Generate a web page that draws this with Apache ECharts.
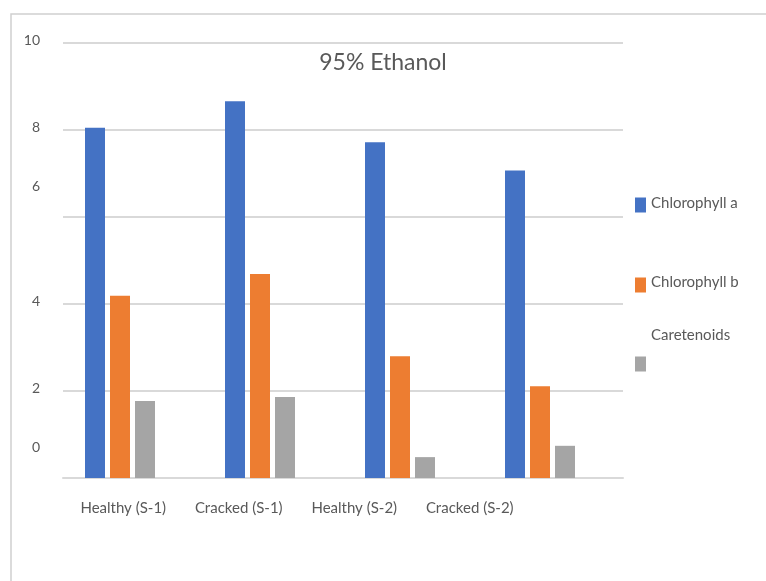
<!DOCTYPE html>
<html>
<head>
<meta charset="utf-8">
<script src="https://cdn.jsdelivr.net/npm/echarts@6/dist/echarts.min.js"></script>
<style>
  html, body { margin: 0; padding: 0; background: #ffffff; }
  #chart { width: 766px; height: 581px; }
</style>
</head>
<body>
<div id="chart"></div>
<script>
// Pigment content measured in 95% ethanol extract
const categories = ['Healthy (S-1)', 'Cracked (S-1)', 'Healthy (S-2)', 'Cracked (S-2)'];
const seriesNames = ['Chlorophyll a', 'Chlorophyll b', 'Caretenoids'];
const chlorophyllA = [8.05, 8.66, 7.72, 7.07];
const chlorophyllB = [4.19, 4.69, 2.80, 2.11];
const caretenoids = [1.77, 1.86, 0.48, 0.74];
const yTicks = [0, 2, 4, 6, 8, 10];
const titleText = '95% Ethanol';

const colors = ['#4472C4', '#ED7D31', '#A5A5A5'];
const textColor = '#595959';
const font = 'Lato';

const chart = echarts.init(document.getElementById('chart'), null, { renderer: 'canvas' });

const gridTop = 43, gridBottom = 103;

function legendFor(i, top, lift) {
  return {
    show: true,
    data: [seriesNames[i]],
    left: 635,
    top: top,
    padding: 0,
    orient: 'vertical',
    icon: 'rect',
    itemWidth: 11,
    itemHeight: 15,
    selectedMode: false,
    formatter: function (name) { return '{t|' + name + '}'; },
    textStyle: {
      rich: {
        t: { fontFamily: font, fontSize: 15, color: textColor, lineHeight: 18, padding: [0, 0, lift, 0] }
      }
    }
  };
}

const option = {
  backgroundColor: '#ffffff',
  animation: false,
  title: {
    text: titleText,
    left: 'center',
    top: 46,
    textStyle: { fontFamily: font, fontSize: 23, fontWeight: 'normal', color: textColor }
  },
  legend: [
    legendFor(0, 196, 3),
    legendFor(1, 274.5, 6),
    legendFor(2, 328, 57)
  ],
  graphic: [{
    type: 'rect',
    shape: { x: 11, y: 14, width: 800, height: 600 },
    style: { fill: 'none', stroke: '#d0d0d0', lineWidth: 1.5 },
    silent: true,
    z: -1
  }],
  grid: [
    // value grid with gridlines and y labels
    { left: 63, right: 143, top: gridTop, bottom: gridBottom },
    // bar grid
    { left: 50, right: 156, top: gridTop, bottom: gridBottom },
    // category label grid
    { left: 65.5, right: 238.5, top: gridTop, bottom: gridBottom }
  ],
  xAxis: [
    {
      gridIndex: 0, type: 'category', data: categories,
      axisLine: { show: true, lineStyle: { color: '#d9d9d9', width: 2 } },
      axisTick: { show: false }, axisLabel: { show: false }, splitLine: { show: false }
    },
    {
      gridIndex: 1, type: 'category', data: categories,
      axisLine: { show: false }, axisTick: { show: false }, axisLabel: { show: false }
    },
    {
      gridIndex: 2, type: 'category', data: categories,
      axisLine: { show: false }, axisTick: { show: false },
      axisLabel: { show: true, margin: 23, fontFamily: font, fontSize: 15, color: textColor, interval: 0 }
    }
  ],
  yAxis: [
    {
      gridIndex: 0, type: 'value', min: yTicks[0], max: yTicks[yTicks.length - 1], interval: 2,
      axisLine: { show: false }, axisTick: { show: false },
      splitLine: { show: true, lineStyle: { color: '#d9d9d9', width: 2 } },
      axisLabel: {
        margin: 23,
        formatter: function (v) { return (v === 6 || v === 0) ? '{lo|' + v + '}' : '{hi|' + v + '}'; },
        rich: {
          hi: { fontFamily: font, fontSize: 14, color: textColor, lineHeight: 17, padding: [0, 0, 6, 0] },
          lo: { fontFamily: font, fontSize: 14, color: textColor, lineHeight: 17, padding: [0, 0, 62, 0] }
        }
      }
    },
    {
      gridIndex: 1, type: 'value', min: yTicks[0], max: yTicks[yTicks.length - 1], interval: 2,
      show: false, splitLine: { show: false }
    },
    {
      gridIndex: 2, type: 'value', min: yTicks[0], max: yTicks[yTicks.length - 1], interval: 2,
      show: false, splitLine: { show: false }
    }
  ],
  series: [chlorophyllA, chlorophyllB, caretenoids].map(function (vals, i) {
    return {
      name: seriesNames[i],
      type: 'bar',
      xAxisIndex: 1,
      yAxisIndex: 1,
      data: vals,
      barWidth: 20,
      barGap: '25%',
      itemStyle: { color: colors[i] }
    };
  })
};

chart.setOption(option);
</script>
</body>
</html>
